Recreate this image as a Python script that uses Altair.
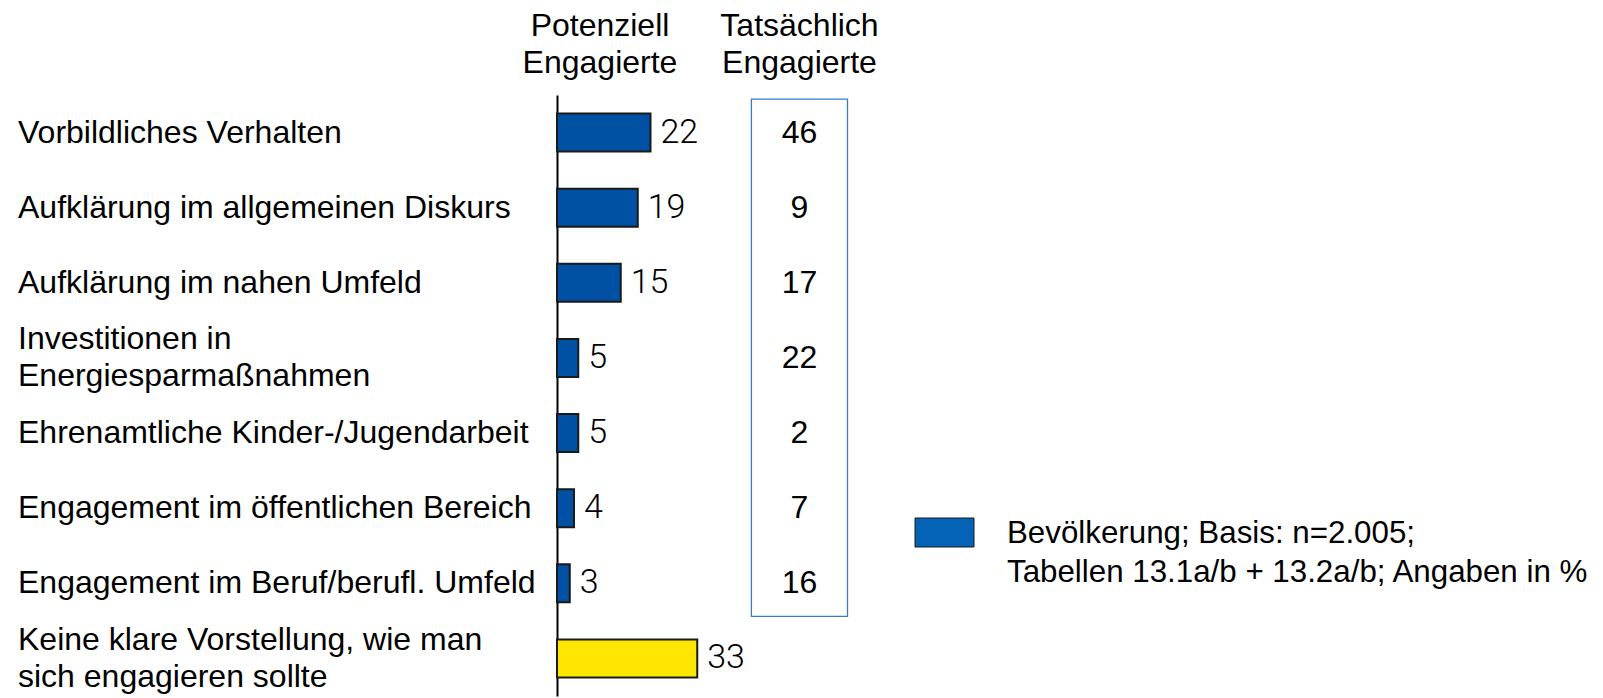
import altair as alt
import pandas as pd

categories = [
    "Vorbildliches Verhalten",
    "Aufklärung im allgemeinen Diskurs",
    "Aufklärung im nahen Umfeld",
    "Investitionen in\nEnergiesparmaßnahmen",
    "Ehrenamtliche Kinder-/Jugendarbeit",
    "Engagement im öffentlichen Bereich",
    "Engagement im Beruf/berufl. Umfeld",
    "Keine klare Vorstellung, wie man\nsich engagieren sollte",
]
potenziell = [22, 19, 15, 5, 5, 4, 3, 33]
tatsaechlich = [46, 9, 17, 22, 2, 7, 16, None]
groups = ["Bevölkerung"] * 7 + ["Keine"]

header_left = "Potenziell\nEngagierte"
header_right = "Tatsächlich\nEngagierte"
legend_text = "Bevölkerung; Basis: n=2.005;\nTabellen 13.1a/b + 13.2a/b; Angaben in %"

df = pd.DataFrame({"cat": categories, "pot": potenziell, "tat": tatsaechlich, "grp": groups})

FONT = "Liberation Sans"
FS = 32

y_enc = alt.Y(
    "cat:N",
    sort=categories,
    scale=alt.Scale(paddingInner=0, paddingOuter=0),
    axis=alt.Axis(labels=False, ticks=False, domain=True, domainColor="black",
                  domainWidth=2, title=None, grid=False),
)
x_enc = alt.X("pot:Q", scale=alt.Scale(domain=[0, 240]), axis=None)

base = alt.Chart(df)
one = base.transform_filter("datum.grp == 'Keine'")

bars = base.mark_bar(size=38, stroke="#1a1a1a", strokeWidth=2).encode(
    x=x_enc,
    y=y_enc,
    color=alt.Color("grp:N", scale=alt.Scale(domain=["Bevölkerung", "Keine"],
                                             range=["#0050A4", "#FFE600"]), legend=None),
)

values = base.mark_text(align="left", baseline="middle", dx=10, font="Roboto",
                        fontWeight=300, fontSize=34, color="black").encode(
    x=x_enc, y=y_enc, text=alt.Text("pot:Q")
)

labels1 = base.transform_filter("indexof(datum.cat, '\\n') < 0").mark_text(
    align="left", baseline="middle", font=FONT, fontSize=FS, color="black"
).encode(x=alt.value(-539), y=y_enc, text="cat:N")

labels2 = base.transform_filter("indexof(datum.cat, '\\n') >= 0").mark_text(
    align="left", baseline="middle", font=FONT, fontSize=FS, lineBreak="\n",
    lineHeight=37, dy=-18.5, color="black"
).encode(x=alt.value(-539), y=y_enc, text="cat:N")

tat = base.transform_filter("isValid(datum.tat)").mark_text(
    align="center", baseline="middle", font=FONT, fontSize=FS, color="black"
).encode(x=alt.value(242.5), y=y_enc, text=alt.Text("tat:Q"))

box = one.mark_rect(fillOpacity=0, stroke="#3A7DC6", strokeWidth=1.3).encode(
    x=alt.value(194.4), x2=alt.value(290.5), y=alt.value(4.2), y2=alt.value(521.4)
)

hdr1 = one.mark_text(
    align="center", baseline="middle", font=FONT, fontSize=FS, lineBreak="\n",
    lineHeight=37, color="black"
).encode(x=alt.value(43), y=alt.value(-69), text=alt.value(header_left))

hdr2 = one.mark_text(
    align="center", baseline="middle", font=FONT, fontSize=FS, lineBreak="\n",
    lineHeight=37, color="black"
).encode(x=alt.value(242.5), y=alt.value(-69), text=alt.value(header_right))

leg_sq = one.mark_rect(fill="#0563B7", stroke="#1a1a1a", strokeWidth=1).encode(
    x=alt.value(358), x2=alt.value(417), y=alt.value(423), y2=alt.value(452)
)

leg_txt = one.mark_text(
    align="left", baseline="middle", font=FONT, fontSize=31.3, lineBreak="\n",
    lineHeight=39, color="black"
).encode(x=alt.value(450), y=alt.value(439), text=alt.value(legend_text))

chart = alt.layer(box, bars, values, labels1, labels2, tat, hdr1, hdr2, leg_sq, leg_txt).properties(
    width=1020, height=601,
    background="white",
    autosize=alt.AutoSizeParams(type="none"),
    padding={"left": 549, "top": 87, "right": 18, "bottom": 10},
).configure_view(stroke=None)

chart.save("out.html", embed_options={"renderer": "svg", "actions": False})
